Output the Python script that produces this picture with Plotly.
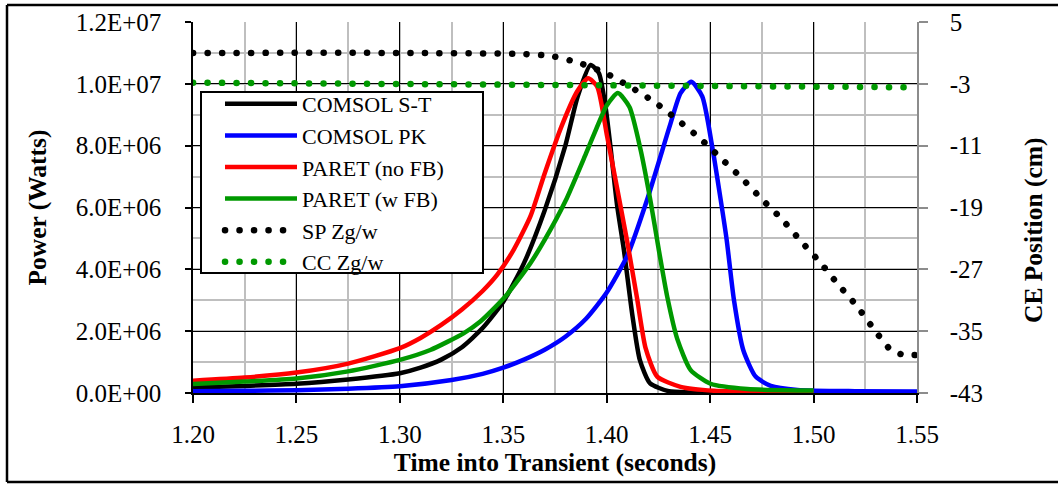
import plotly.graph_objects as go

# ---------------- data ----------------
t_st = [1.20, 1.225, 1.25, 1.275, 1.30, 1.31, 1.32, 1.33, 1.34, 1.35, 1.36, 1.37, 1.38,
        1.386, 1.3922, 1.3962, 1.3994, 1.4018, 1.4051, 1.4083, 1.4125, 1.416, 1.421, 1.43,
        1.44, 1.45, 1.50]
p_st = [0.18e6, 0.23e6, 0.30e6, 0.44e6, 0.64e6, 0.82e6, 1.08e6, 1.48e6, 2.10e6, 2.95e6, 4.20e6, 5.90e6, 8.00e6,
        9.60e6, 10.61e6, 10.35e6, 9.27e6, 7.97e6, 6.03e6, 4.63e6, 2.47e6, 1.07e6, 0.31e6, 0.06e6,
        0.02e6, 0.01e6, 0.01e6]

t_pk = [1.20, 1.225, 1.25, 1.275, 1.30, 1.325, 1.34, 1.35, 1.36, 1.37, 1.38, 1.39, 1.40,
        1.41, 1.42, 1.4309, 1.4357, 1.4409, 1.4462, 1.451, 1.4551, 1.458, 1.4615, 1.466, 1.472,
        1.4793, 1.4922, 1.52, 1.55]
p_pk = [0.06e6, 0.07e6, 0.09e6, 0.14e6, 0.22e6, 0.42e6, 0.62e6, 0.82e6, 1.08e6, 1.40e6, 1.82e6, 2.40e6, 3.25e6,
        4.45e6, 6.35e6, 8.73e6, 9.70e6, 10.07e6, 9.59e6, 7.97e6, 6.25e6, 4.95e6, 3.01e6, 1.39e6, 0.53e6,
        0.23e6, 0.10e6, 0.06e6, 0.05e6]

t_nofb = [1.20, 1.225, 1.25, 1.275, 1.30, 1.31, 1.32, 1.33, 1.34, 1.347, 1.355, 1.3631, 1.37,
          1.378, 1.3857, 1.391, 1.3954, 1.4002, 1.4051, 1.4099, 1.4147, 1.4188, 1.4244, 1.4357,
          1.4518, 1.50]
p_nofb = [0.40e6, 0.50e6, 0.66e6, 0.95e6, 1.45e6, 1.78e6, 2.20e6, 2.70e6, 3.30e6, 3.82e6, 4.63e6, 5.71e6, 7.10e6,
          8.60e6, 9.75e6, 10.18e6, 9.91e6, 8.30e6, 6.60e6, 4.90e6, 3.05e6, 1.45e6, 0.53e6, 0.20e6,
          0.075e6, 0.04e6]

t_wfb = [1.20, 1.225, 1.25, 1.275, 1.30, 1.3147, 1.3308, 1.3389, 1.351, 1.3631, 1.37, 1.38,
         1.39, 1.395, 1.40, 1.4054, 1.411, 1.4164, 1.4212, 1.425, 1.4293, 1.4341, 1.4406,
         1.4502, 1.468, 1.50]
p_wfb = [0.29e6, 0.37e6, 0.47e6, 0.70e6, 1.07e6, 1.39e6, 1.93e6, 2.31e6, 3.12e6, 4.20e6, 4.95e6, 6.20e6,
         7.75e6, 8.55e6, 9.30e6, 9.70e6, 9.25e6, 7.86e6, 6.20e6, 4.70e6, 3.10e6, 1.75e6, 0.74e6,
         0.30e6, 0.13e6, 0.08e6]

t_sp = [1.20, 1.30, 1.3597, 1.3733, 1.3868, 1.3994, 1.4115, 1.4231, 1.4343, 1.4449, 1.4551, 1.4652,
        1.4749, 1.4846, 1.4938, 1.503, 1.5117, 1.5209, 1.5291, 1.5378, 1.5441, 1.55]
z_sp = [1.0, 1.0, 0.86, 0.60, -0.30, -1.60, -3.41, -5.35, -7.68, -10.01, -12.60, -15.18,
        -17.90, -20.49, -23.33, -26.05, -28.90, -31.74, -34.72, -37.57, -38.08, -38.08]

t_cc = [1.20, 1.30, 1.40, 1.50, 1.55]
z_cc = [-2.85, -3.0, -3.15, -3.35, -3.45]

y_tickvals = [0, 2e6, 4e6, 6e6, 8e6, 1e7, 1.2e7]
y_ticktext = ["0.0E+00", "2.0E+06", "4.0E+06", "6.0E+06", "8.0E+06", "1.0E+07", "1.2E+07"]
y2_tickvals = [-43, -35, -27, -19, -11, -3, 5]
y2_ticktext = ["-43", "-35", "-27", "-19", "-11", "-3", "5"]
x_tickvals = [1.20, 1.25, 1.30, 1.35, 1.40, 1.45, 1.50, 1.55]

# ---------------- figure ----------------
W, H = 1058, 485
ML, MR, MT, MB = 193, 141, 22, 92
PW, PH = W - ML - MR, H - MT - MB

def px2paper_x(px):
    return (px - ML) / PW

def px2paper_y(py):
    return (H - MB - py) / PH

FONT = "Liberation Serif"
DOTS = "0.1px,14.4px"   # zero-length dashes, turned into round dots below

fig = go.Figure()
lw = 4.5
for name, tx, py_, col in [
    ("COMSOL S-T", t_st, p_st, "#000000"),
    ("COMSOL PK", t_pk, p_pk, "#0000FF"),
    ("PARET (no FB)", t_nofb, p_nofb, "#FF0000"),
    ("PARET (w FB)", t_wfb, p_wfb, "#009900"),
]:
    fig.add_trace(go.Scatter(x=tx, y=py_, name=name, mode="lines",
                             line=dict(color=col, width=lw, shape="spline", smoothing=0.6),
                             yaxis="y"))

fig.add_trace(go.Scatter(x=t_sp, y=z_sp, name="SP Zg/w", mode="lines",
                         line=dict(color="#000000", width=6.5, dash=DOTS, shape="spline", smoothing=0.5),
                         yaxis="y2"))
fig.add_trace(go.Scatter(x=t_cc, y=z_cc, name="CC Zg/w", mode="lines",
                         line=dict(color="#009900", width=6.5, dash=DOTS),
                         yaxis="y2"))

grid_minor = "#BFBFBF"
fig.update_layout(
    width=W, height=H,
    margin=dict(l=ML, r=MR, t=MT, b=MB, autoexpand=False),
    paper_bgcolor="white", plot_bgcolor="white",
    font=dict(family=FONT, size=25, color="black"),
    showlegend=True,
    legend=dict(x=px2paper_x(220), y=px2paper_y(83), xanchor="left", yanchor="top",
                bgcolor="rgba(0,0,0,0)", borderwidth=0,
                font=dict(family=FONT, size=22, color="black"),
                itemwidth=72, tracegroupgap=0),
    xaxis=dict(range=[1.20, 1.55], tickvals=x_tickvals, tickformat=".2f",
               automargin=False,
               showgrid=True, gridcolor="black", gridwidth=1.3,
               showline=True, linecolor="black", linewidth=1.5,
               ticks="outside", ticklen=8, tickcolor="black", tickwidth=1.5,
               ticklabelstandoff=10,
               minor=dict(dtick=0.025, tick0=1.2, showgrid=True, gridcolor=grid_minor, gridwidth=1.5),
               zeroline=False,
               title=dict(text="<b>Time into Transient (seconds)</b>", standoff=5,
                          font=dict(family=FONT, size=25.5))),
    yaxis=dict(range=[0, 1.2e7], tickvals=y_tickvals, ticktext=y_ticktext,
               automargin=False,
               showgrid=True, gridcolor="black", gridwidth=1.3,
               showline=True, linecolor="black", linewidth=1.5,
               ticks="outside", ticklen=6, tickcolor="black", tickwidth=1.5,
               ticklabelstandoff=19,
               minor=dict(dtick=1e6, tick0=0, showgrid=True, gridcolor=grid_minor, gridwidth=1.5),
               zeroline=False,
               title=dict(text="<b>Power (Watts)</b>", standoff=22,
                          font=dict(family=FONT, size=25.5))),
    yaxis2=dict(range=[-43, 5], tickvals=y2_tickvals, ticktext=y2_ticktext,
                automargin=False,
                overlaying="y", side="right", showgrid=False,
                showline=True, linecolor="#8C8C8C", linewidth=1.5,
                ticks="outside", ticklen=9, tickcolor="#8C8C8C", tickwidth=1.5,
                ticklabelstandoff=17, zeroline=False),
)

# legend frame (white box behind the legend entries)
fig.add_shape(type="rect", xref="paper", yref="paper",
              x0=px2paper_x(201), x1=px2paper_x(483), y0=px2paper_y(273), y1=px2paper_y(92),
              fillcolor="white", line=dict(color="black", width=2), layer="above")

# right axis title
fig.add_annotation(text="<b>CE Position (cm)</b>", textangle=-90,
                   xref="paper", yref="paper", x=px2paper_x(1033), y=px2paper_y(230),
                   xanchor="center", yanchor="middle", showarrow=False,
                   font=dict(family=FONT, size=25.5, color="black"))

# outer frame (left, top, bottom edges)
fx0, fx1 = px2paper_x(7), px2paper_x(1070)
fy0, fy1 = px2paper_y(482), px2paper_y(5)
for x0, y0, x1, y1 in [(fx0, fy0, fx0, fy1), (fx0, fy1, fx1, fy1), (fx0, fy0, fx1, fy0)]:
    fig.add_shape(type="line", xref="paper", yref="paper", x0=x0, y0=y0, x1=x1, y1=y1,
                  line=dict(color="black", width=2.5), layer="above")

post = """
document.body.style.margin = '0px';
document.querySelectorAll('path').forEach(function (p) {
  var d = p.style.strokeDasharray;
  if (d && d !== 'none' && d.indexOf('0.1') === 0) { p.style.strokeLinecap = 'round'; }
});
"""
fig.write_html("out.html", config={"displayModeBar": False}, post_script=post)
